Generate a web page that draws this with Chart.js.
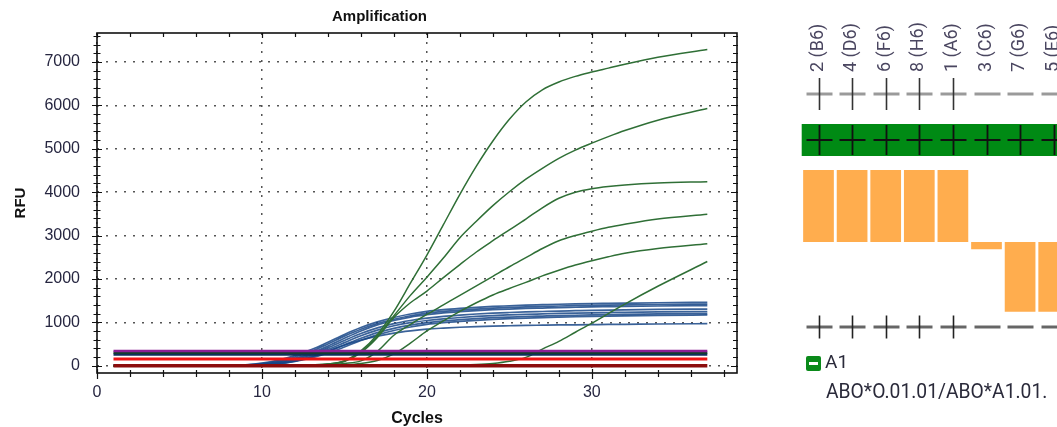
<!DOCTYPE html>
<html>
<head>
<meta charset="utf-8">
<script src="https://cdn.jsdelivr.net/npm/chart.js@4.4.0/dist/chart.umd.min.js"></script>
<style>
  html, body { margin: 0; padding: 0; background: #fff; }
  body { width: 1057px; height: 427px; position: relative; overflow: hidden; }
  #amp { position: absolute; left: 0; top: 0; }
  #calls { position: absolute; left: 760px; top: 0; }
  .legendBox { position: absolute; left: 806px; top: 356px; width: 15px; height: 15px; background: #0a8a1a; border-radius: 2px; }
  .legendBox span { position: absolute; left: 3px; right: 3px; top: 6px; height: 3px; background: #fff; }
  .txt { position: absolute; font-family: Roboto, sans-serif; color: #2a2a3a; white-space: nowrap; }
</style>
</head>
<body>
<canvas id="amp" width="760" height="427"></canvas>
<canvas id="calls" width="320" height="427"></canvas>
<div class="legendBox"><span></span></div>
<div class="txt" style="left:825px; top:350px; font-size:19px;">A1</div>
<div class="txt" style="left:826px; top:380px; font-size:19.3px;">ABO*O.01.01/ABO*A1.01.</div>
<script>
// amplification data
const cycles = [1, 8, 9, 10, 11, 12, 13, 14, 15, 16, 17, 18, 19, 20, 21, 22, 23, 24, 25, 26, 27, 28, 29, 30, 31, 32, 34, 37];

const blueRFU = [
  [0, 5, 20, 60, 130, 230, 370, 540, 720, 880, 1010, 1110, 1190, 1250, 1290, 1320, 1345, 1365, 1380, 1395, 1405, 1415, 1423, 1430, 1435, 1440, 1450, 1460],
  [0, 4, 15, 45, 110, 200, 330, 500, 680, 840, 970, 1070, 1150, 1210, 1250, 1280, 1305, 1325, 1340, 1355, 1365, 1375, 1383, 1390, 1395, 1400, 1410, 1420],
  [0, 3, 12, 35, 90, 170, 290, 450, 630, 800, 940, 1040, 1120, 1175, 1215, 1245, 1270, 1290, 1305, 1318, 1328, 1338, 1346, 1354, 1360, 1366, 1375, 1385],
  [0, 3, 10, 30, 75, 150, 260, 410, 580, 740, 870, 970, 1040, 1095, 1135, 1165, 1190, 1210, 1225, 1238, 1248, 1258, 1266, 1274, 1281, 1287, 1296, 1305],
  [0, 2, 8, 25, 65, 130, 230, 370, 530, 690, 820, 920, 990, 1040, 1080, 1110, 1135, 1155, 1170, 1183, 1193, 1203, 1211, 1218, 1224, 1230, 1238, 1245],
  [0, 2, 6, 20, 55, 110, 200, 330, 480, 630, 760, 860, 935, 990, 1030, 1060, 1085, 1105, 1120, 1133, 1143, 1153, 1162, 1170, 1176, 1182, 1192, 1200],
  [0, 2, 5, 15, 45, 95, 175, 290, 430, 580, 710, 810, 890, 950, 990, 1020, 1045, 1065, 1082, 1096, 1108, 1118, 1127, 1135, 1142, 1148, 1158, 1168],
  [0, 1, 4, 12, 35, 100, 200, 330, 470, 590, 680, 750, 800, 840, 865, 885, 900, 912, 920, 928, 933, 938, 942, 946, 950, 953, 960, 968]
];

const greenRFU = [
  [0, 0, 0, 2, 4, 8, 15, 35, 110, 340, 720, 1250, 1900, 2550, 3250, 3950, 4600, 5180, 5680, 6080, 6360, 6540, 6670, 6770, 6860, 6950, 7110, 7290],
  [0, 0, 0, 2, 4, 8, 15, 35, 105, 320, 680, 1150, 1620, 2040, 2480, 2950, 3330, 3690, 4010, 4300, 4550, 4780, 4970, 5130, 5280, 5420, 5660, 5930],
  [0, 0, 0, 2, 4, 8, 14, 30, 95, 300, 650, 1110, 1450, 1720, 2030, 2330, 2620, 2880, 3130, 3380, 3640, 3860, 4000, 4080, 4130, 4165, 4210, 4240],
  [0, 0, 0, 1, 3, 6, 10, 20, 50, 110, 330, 700, 950, 1180, 1400, 1620, 1840, 2060, 2280, 2490, 2700, 2880, 3000, 3100, 3190, 3260, 3380, 3490],
  [0, 0, 0, 1, 2, 4, 6, 10, 20, 50, 120, 270, 520, 800, 1030, 1250, 1450, 1630, 1780, 1920, 2070, 2200, 2320, 2420, 2510, 2590, 2700, 2810],
  [0, 0, 0, 0, 0, 0, 0, 0, 0, 0, 1, 2, 3, 5, 8, 14, 25, 50, 100, 190, 380, 560, 770, 980, 1200, 1420, 1830, 2400]
];

// flat control traces
const flatRFU = [340, 298, 256, 152, 0];
const flatColors = ['#8d1f95', '#123f2e', '#0f2f5c', '#f01414', '#8c0c0c'];

const rfuTicks = [0, 1000, 2000, 3000, 4000, 5000, 6000, 7000];
const cycleTicks = [0, 10, 20, 30];

// call panel data
const sampleLabels = ['2 (B6)', '4 (D6)', '6 (F6)', '8 (H6)', '1 (A6)', '3 (C6)', '7 (G6)', '5 (E6)'];
const scores = [1, 1, 1, 1, 1, -0.1, -0.97, -0.97];
const callsTop = ['+', '+', '+', '+', '+', '-', '-', '-'];
const callsBand = ['+', '+', '+', '+', '+', '+', '+', '+'];
const callsBottom = ['+', '+', '+', '+', '+', '-', '-', '-'];

const labelColor = '#262640';

function toPoints(vals) {
    return vals.map((v, i) => ({ x: cycles[i], y: v }));
}

const datasets = [];
flatRFU.forEach((v, i) => {
    datasets.push({
        data: [{ x: cycles[0], y: v }, { x: cycles[cycles.length - 1], y: v }],
        borderColor: flatColors[i],
        borderWidth: i === 4 ? 3.5 : (i === 3 ? 3 : 2.5),
        pointRadius: 0
    });
});
greenRFU.forEach(vals => {
    datasets.push({
        data: toPoints(vals),
        borderColor: '#2f6f36',
        borderWidth: 1.5,
        pointRadius: 0,
        cubicInterpolationMode: 'monotone'
    });
});
blueRFU.forEach(vals => {
    datasets.push({
        data: toPoints(vals),
        borderColor: 'rgba(24, 70, 135, 0.85)',
        borderWidth: 1.7,
        pointRadius: 0,
        cubicInterpolationMode: 'monotone'
    });
});

// frame with minor ticks, like the instrument software
const frameTicks = {
    id: 'frameTicks',
    afterDraw(chart) {
        const { ctx, chartArea: a, scales: { x, y } } = chart;
        ctx.save();
        ctx.strokeStyle = '#111';
        ctx.lineWidth = 1.6;
        ctx.strokeRect(a.left, a.top, a.right - a.left, a.bottom - a.top);
        ctx.lineWidth = 1.2;
        ctx.beginPath();
        for (let v = 0; v <= y.max; v += 200) {
            const py = Math.round(y.getPixelForValue(v)) + 0.5;
            const big = v % 1000 === 0;
            ctx.moveTo(a.left - (big ? 5 : 3.5), py);
            ctx.lineTo(a.left + (big ? 5 : 3.5), py);
            ctx.moveTo(a.right - (big ? 6 : 4), py);
            ctx.lineTo(a.right + 1, py);
        }
        for (let c = 0; c <= x.max; c += 2) {
            const px = Math.round(x.getPixelForValue(c)) + 0.5;
            const big = c % 10 === 0;
            ctx.moveTo(px, a.bottom - (big ? 4 : 3));
            ctx.lineTo(px, a.bottom + (big ? 6 : 4));
            ctx.moveTo(px, a.top);
            ctx.lineTo(px, a.top + (big ? 5 : 4));
        }
        ctx.stroke();
        ctx.restore();
    }
};

Chart.defaults.font.family = 'Arial, "Liberation Sans", sans-serif';

new Chart(document.getElementById('amp'), {
    type: 'line',
    data: { datasets },
    options: {
        responsive: false,
        animation: false,
        layout: { padding: { left: 22, right: 23, top: 0, bottom: 0 } },
        plugins: {
            legend: { display: false },
            tooltip: { enabled: false },
            title: {
                display: true,
                text: 'Amplification',
                color: '#111',
                font: { size: 15, weight: 'bold' },
                padding: { top: 8, bottom: 7 }
            }
        },
        scales: {
            x: {
                type: 'linear',
                min: 0,
                max: 38.8,
                afterBuildTicks: s => { s.ticks = cycleTicks.map(v => ({ value: v })); },
                afterFit: s => { s.height = 54; },
                ticks: { padding: 10, color: labelColor, font: { size: 16 }, callback: v => String(v) },
                grid: { color: '#555', lineWidth: 1.5, drawTicks: false },
                border: { display: false, dash: [2, 7] },
                title: {
                    display: true, text: 'Cycles', color: '#111',
                    font: { size: 16, weight: 'bold', lineHeight: 1 },
                    padding: { top: 0, bottom: 0 }
                }
            },
            y: {
                type: 'linear',
                min: -170,
                max: 7670,
                afterBuildTicks: s => { s.ticks = rfuTicks.map(v => ({ value: v })); },
                afterFit: s => { s.width = 75; },
                ticks: { padding: 17, color: labelColor, font: { size: 16 }, callback: v => String(v) },
                grid: { color: '#555', lineWidth: 1.5, drawTicks: false },
                border: { display: false, dash: [2, 7] },
                title: {
                    display: true, text: 'RFU', color: '#111',
                    font: { size: 15, weight: 'bold' },
                    padding: { top: -10.5, bottom: 0 }
                }
            }
        }
    },
    plugins: [frameTicks]
});

// right panel: per-sample call marks around the score bars
function drawMark(ctx, cx, cy, sign, hColor, vColor, halfH, halfV) {
    ctx.lineWidth = 3;
    ctx.strokeStyle = hColor;
    ctx.beginPath();
    ctx.moveTo(cx - halfH, cy);
    ctx.lineTo(cx + halfH, cy);
    ctx.stroke();
    if (sign === '+') {
        ctx.lineWidth = 1.6;
        ctx.strokeStyle = vColor;
        ctx.beginPath();
        ctx.moveTo(cx, cy - halfV);
        ctx.lineTo(cx, cy + halfV);
        ctx.stroke();
    }
}

const callMarks = {
    id: 'callMarks',
    afterDraw(chart) {
        const { ctx, chartArea: a, scales: { x } } = chart;
        ctx.save();
        // green band
        ctx.fillStyle = '#008a14';
        ctx.fillRect(a.left, 124, a.right - a.left, 32);
        sampleLabels.forEach((lab, i) => {
            const cx = Math.round(x.getPixelForValue(i)) + 0.5;
            // rotated sample label
            ctx.save();
            ctx.translate(cx - 1.5, 72);
            ctx.rotate(-Math.PI / 2);
            ctx.font = '18px Roboto, sans-serif';
            ctx.fillStyle = '#4a4660';
            ctx.textAlign = 'left';
            ctx.textBaseline = 'middle';
            ctx.fillText(lab, 0, 0);
            ctx.restore();

            drawMark(ctx, cx, 94, callsTop[i], '#9a9a9a', '#333', 13, 16);
            ctx.lineWidth = 1.8;
            ctx.strokeStyle = '#111';
            ctx.beginPath();
            ctx.moveTo(cx - 13, 140);
            ctx.lineTo(cx + 13, 140);
            if (callsBand[i] === '+') {
                ctx.moveTo(cx, 125);
                ctx.lineTo(cx, 155);
            }
            ctx.stroke();
            drawMark(ctx, cx, 327, callsBottom[i], '#666', '#222', 13, 11.5);
        });
        ctx.restore();
    }
};

new Chart(document.getElementById('calls'), {
    type: 'bar',
    data: {
        labels: sampleLabels,
        datasets: [{
            data: scores,
            backgroundColor: '#ffad4e',
            borderWidth: 0,
            barPercentage: 0.914,
            categoryPercentage: 1
        }]
    },
    options: {
        responsive: false,
        animation: false,
        layout: { padding: { left: 41.7, right: 9.5, top: 170, bottom: 113 } },
        plugins: { legend: { display: false }, tooltip: { enabled: false } },
        scales: {
            x: { display: false },
            y: { display: false, min: -1, max: 1 }
        }
    },
    plugins: [callMarks]
});
</script>
</body>
</html>
